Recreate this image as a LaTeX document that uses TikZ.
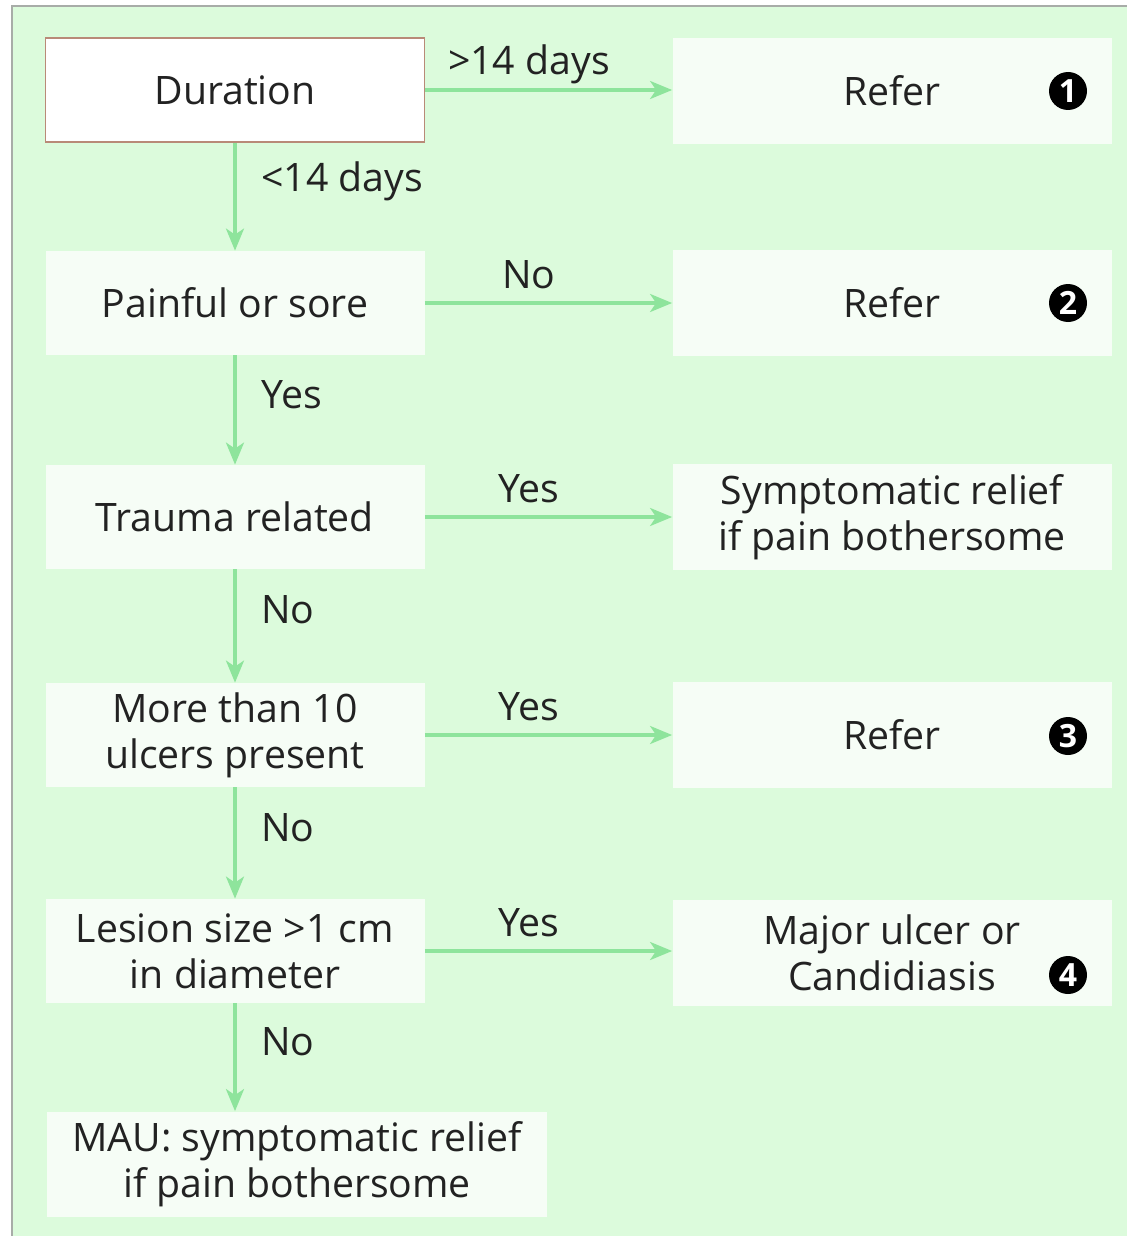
\documentclass[tikz,border=0pt]{standalone}
\usepackage{fontspec}
\setmainfont{Open Sans}
\usetikzlibrary{arrows.meta}
\definecolor{panel}{HTML}{DCFBDC}
\definecolor{boxfill}{HTML}{F6FDF6}
\definecolor{arrowc}{HTML}{8EE49C}
\definecolor{brd}{HTML}{B98A78}
\definecolor{frame}{HTML}{A8ACA8}
\definecolor{txt}{HTML}{222222}
\begin{document}
\begin{tikzpicture}[x=0.5pt,y=-0.5pt,
  every node/.style={text=txt,font=\fontsize{19.6}{23}\selectfont},
  qbox/.style={fill=boxfill,draw=none,minimum width=189.5pt,minimum height=52pt,align=center,inner sep=0pt},
  rbox/.style={fill=boxfill,draw=none,minimum width=219.5pt,minimum height=53pt,align=center,inner sep=0pt},
  num/.style={circle,fill=black,text=white,inner sep=0pt,minimum size=19pt,font=\bfseries\fontsize{16}{16}\selectfont\rmfamily},
  flow/.style={draw=arrowc,line width=1.6pt,-{Stealth[length=11pt,width=9pt,inset=3pt]}},
  hl/.style={pos=0.42,anchor=base,yshift=7.5pt,inner sep=0pt},
  vl/.style={pos=0.36,right=9pt}
]
\useasboundingbox (0,0) rectangle (1127,1236);
\fill[white] (0,0) rectangle (1127,1236);
\fill[panel] (12,6) rectangle (1127,1236);
\draw[frame,line width=1pt] (12,1236) -- (12,6) -- (1127,6);

% left column
\node[qbox,fill=white,draw=brd,line width=0.8pt] (dur) at (235,90) {Duration};
\node[qbox] (pain) at (235,303) {Painful or sore};
\node[qbox] (trauma) at (235,517) {Trauma related};
\node[qbox] (ten) at (235,735) {More than 10\\ulcers present};
\node[qbox] (lesion) at (235,951) {Lesion size >1 cm\\in diameter};
\node[fill=boxfill,minimum width=250pt,minimum height=52.5pt,align=center,inner sep=0pt] (mau) at (297,1164) {MAU: symptomatic relief\\if pain bothersome};

% right column
\node[rbox] (r1) at (892,91) {Refer};
\node[rbox] (r2) at (892,303) {Refer};
\node[rbox] (sym) at (892,517) {Symptomatic relief\\if pain bothersome};
\node[rbox] (r3) at (892,735) {Refer};
\node[rbox] (maj) at (892,953) {Major ulcer or\\Candidiasis};

% numbers
\node[num] (n1) at (1068,91) {1};
\node[num] (n2) at (1068,303) {2};
\node[num] (n3) at (1068,736) {3};
\node[num] (n4) at (1068,975) {4};

% horizontal arrows
\draw[flow] (dur.east) -- (dur.east -| r1.west) node[hl] {>14 days};
\draw[flow] (pain.east) -- (pain.east -| r2.west) node[hl] {No};
\draw[flow] (trauma.east) -- (trauma.east -| sym.west) node[hl] {Yes};
\draw[flow] (ten.east) -- (ten.east -| r3.west) node[hl] {Yes};
\draw[flow] (lesion.east) -- (lesion.east -| maj.west) node[hl] {Yes};

% vertical arrows
\draw[flow] (dur.south) -- (pain.north) node[vl] {<14 days};
\draw[flow] (pain.south) -- (trauma.north) node[vl] {Yes};
\draw[flow] (trauma.south) -- (ten.north) node[vl] {No};
\draw[flow] (ten.south) -- (lesion.north) node[vl] {No};
\draw[flow] (lesion.south) -- (lesion.south |- mau.north) node[vl] {No};
\end{tikzpicture}
\end{document}
